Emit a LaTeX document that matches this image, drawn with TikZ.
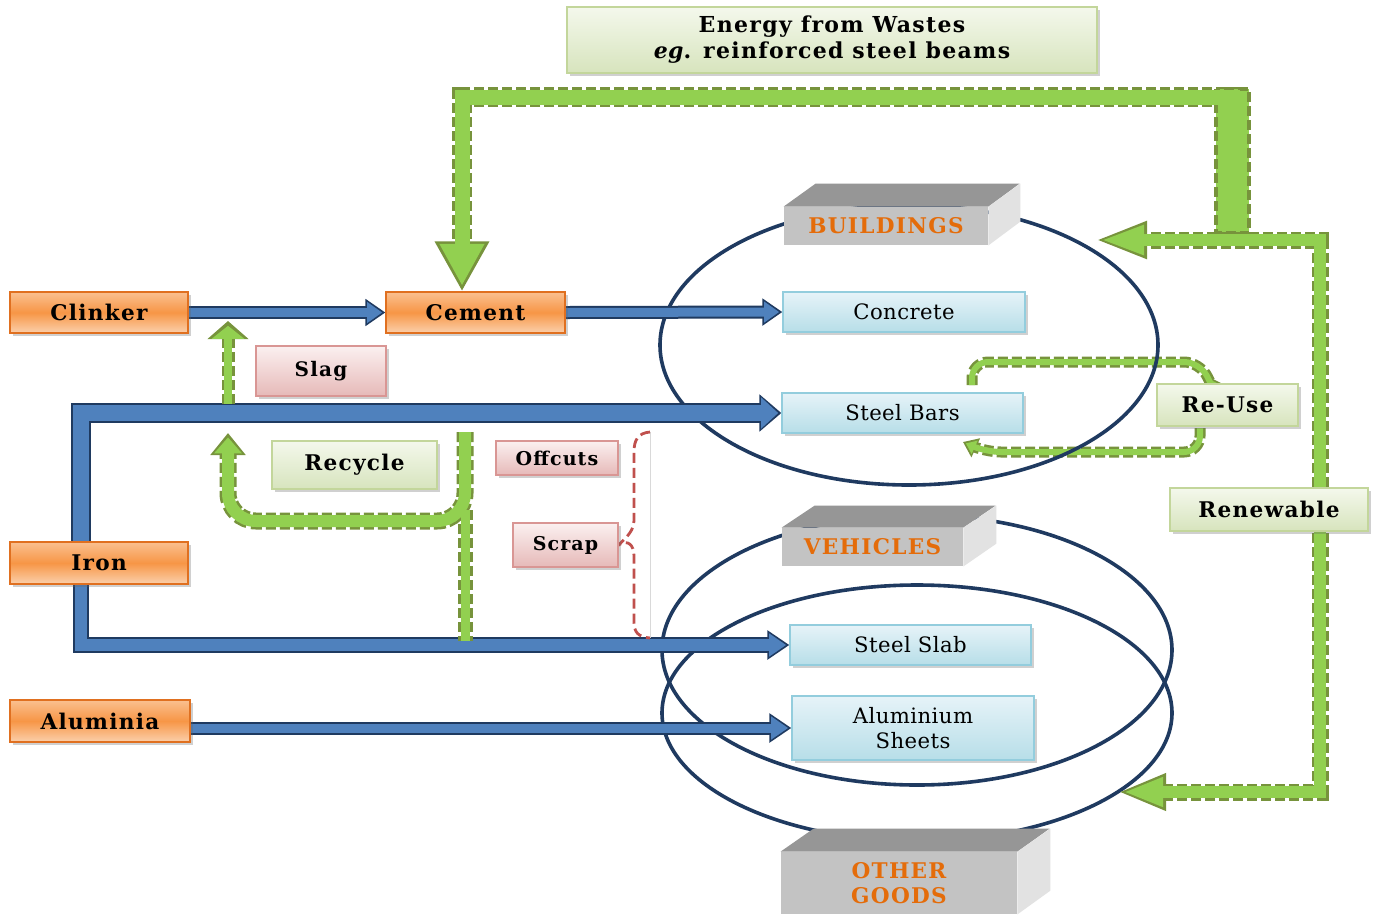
\documentclass[tikz,border=0pt]{standalone}
\usepackage{fontspec}
\setmainfont{DejaVu Serif}[LetterSpace=2,BoldFeatures={LetterSpace=6}]
\usetikzlibrary{arrows.meta,shadows,calc}
\pgfdeclarelayer{paper}
\pgfdeclarelayer{under}
\pgfdeclarelayer{links}
\pgfsetlayers{paper,under,links,main}

\definecolor{OrTop}{HTML}{FAC090}
\definecolor{OrMid}{HTML}{F79646}
\definecolor{OrBot}{HTML}{FBD0AC}
\definecolor{OrEdge}{HTML}{E07020}
\definecolor{PkTop}{HTML}{FBF0F0}
\definecolor{PkBot}{HTML}{E6B9B8}
\definecolor{PkEdge}{HTML}{D99694}
\definecolor{GbTop}{HTML}{F4F8EC}
\definecolor{GbBot}{HTML}{D7E4BD}
\definecolor{GbEdge}{HTML}{C3D69B}
\definecolor{BbTop}{HTML}{E6F3F8}
\definecolor{BbBot}{HTML}{B7DEE8}
\definecolor{BbEdge}{HTML}{93CDDD}
\definecolor{CubeFront}{HTML}{C3C3C3}
\definecolor{CubeTop}{HTML}{969696}
\definecolor{CubeSide}{HTML}{E2E2E2}
\definecolor{CubeText}{HTML}{E46C0A}
\definecolor{BlFill}{HTML}{4F81BD}
\definecolor{BlEdge}{HTML}{1F3A60}
\definecolor{GrFill}{HTML}{92D050}
\definecolor{GrEdge}{HTML}{77933C}
\definecolor{Ring}{HTML}{1F3A60}
\definecolor{Brace}{HTML}{C0504D}

\tikzset{
  box/.style={line width=0.6pt, inner sep=0pt, align=center,
    drop shadow={shadow xshift=1.4pt, shadow yshift=-1.4pt, opacity=0.3, fill=black!60}},
  orangebox/.style={box, draw=OrEdge, top color=OrTop, bottom color=OrBot, middle color=OrMid,
    font=\bfseries\fontsize{10.8}{12}\selectfont},
  pinkbox/.style={box, draw=PkEdge, top color=PkTop, bottom color=PkBot,
    font=\bfseries\fontsize{10}{12}\selectfont},
  greenbox/.style={box, draw=GbEdge, top color=GbTop, bottom color=GbBot,
    font=\bfseries\fontsize{10.8}{12}\selectfont},
  bluebox/.style={box, draw=BbEdge, top color=BbTop, bottom color=BbBot,
    font=\fontsize{10.6}{12.5}\selectfont},
  cubefront/.style={fill=CubeFront, inner sep=0pt, align=center, text=CubeText,
    font=\bfseries\fontsize{10.8}{12.5}\selectfont},
  ring/.style={draw=Ring, line width=1.8pt},
  bout/.style={draw=BlEdge, line width=#1},
  bin/.style={draw=BlFill, line width=#1},
  gout/.style={draw=GrEdge, line width=#1, dash pattern=on 5pt off 2pt},
  gin/.style={draw=GrFill, line width=#1},
}

\begin{document}
\begin{tikzpicture}[x=0.5pt,y=-0.5pt]
\useasboundingbox (0,0) rectangle (1373,923);
\begin{pgfonlayer}{paper}
  \fill[white] (0,0) rectangle (1373,923);
\end{pgfonlayer}

% ---------- boxes ----------
\node[greenbox, minimum width=265pt, minimum height=33pt,
      font=\bfseries\fontsize{11}{13}\selectfont] (title) at (832,40)
      {Energy from Wastes\\\textit{eg}. reinforced steel beams};

\node[orangebox, minimum width=89pt, minimum height=20.5pt] (clinker) at (99,312.5) {Clinker};
\node[orangebox, minimum width=89.5pt, minimum height=20.5pt] (cement) at (475.5,312.5) {Cement};
\node[orangebox, minimum width=89pt, minimum height=21pt] (iron) at (99,563) {Iron};
\node[orangebox, minimum width=90pt, minimum height=21pt] (aluminia) at (100,721) {Aluminia};

\node[pinkbox, minimum width=65pt, minimum height=25pt] (slag) at (321,371) {Slag};
\node[pinkbox, minimum width=61pt, minimum height=17pt,
      font=\bfseries\fontsize{9.5}{11}\selectfont] (offcuts) at (557,458) {Offcuts};
\node[pinkbox, minimum width=52.5pt, minimum height=22pt,
      font=\bfseries\fontsize{9.5}{11}\selectfont] (scrap) at (565.5,545) {Scrap};

\node[greenbox, minimum width=82.5pt, minimum height=24pt] (recycle) at (354.5,465) {Recycle};
\node[greenbox, minimum width=70.5pt, minimum height=21pt] (reuse) at (1227.5,405) {Re-Use};
\node[greenbox, minimum width=99pt, minimum height=21.5pt] (renewable) at (1269,509.5) {Renewable};

\node[bluebox, minimum width=121pt, minimum height=20pt] (concrete) at (904,312) {Concrete};
\node[bluebox, minimum width=120.5pt, minimum height=20pt] (steelbars) at (902.5,413) {Steel Bars};
\node[bluebox, minimum width=120.5pt, minimum height=20pt] (steelslab) at (910.5,645) {Steel Slab};
\node[bluebox, minimum width=121pt, minimum height=32pt] (alsheets) at (913,728) {Aluminium\\Sheets};

% ---------- grey blocks ----------
\node[cubefront, minimum width=102pt, minimum height=19pt] (buildings) at (886,226) {BUILDINGS};
\fill[CubeTop] (buildings.north west) -- ++(32,-23) -- ++(204,0) -- (buildings.north east) -- cycle;
\fill[CubeSide] (buildings.north east) -- ++(32,-23) -- ++(0,38) -- (buildings.south east) -- cycle;

\node[cubefront, minimum width=90.5pt, minimum height=19pt] (vehicles) at (872.5,547) {VEHICLES};
\fill[CubeTop] (vehicles.north west) -- ++(33,-22) -- ++(181,0) -- (vehicles.north east) -- cycle;
\fill[CubeSide] (vehicles.north east) -- ++(33,-22) -- ++(0,38) -- (vehicles.south east) -- cycle;

\node[cubefront, minimum width=118pt, minimum height=31pt] (othergoods) at (899,883) {OTHER\\GOODS};
\fill[CubeTop] (othergoods.north west) -- ++(33,-23) -- ++(236,0) -- (othergoods.north east) -- cycle;
\fill[CubeSide] (othergoods.north east) -- ++(33,-23) -- ++(0,62) -- (othergoods.south east) -- cycle;

% ---------- bend points ----------
\coordinate (wideNW) at (1216,89);
\coordinate (wideSE) at (1249,233);
\coordinate (loopRT) at (1240,97);
\coordinate (loopLT) at (462,97);
\coordinate (renLow)  at (1118,792);
\coordinate (renBR)   at (1320,792);
\coordinate (renTR)   at (1320,240);
\coordinate (renHigh) at (1095,240);
\coordinate (ruA) at (972,385);
\coordinate (ruB) at (972,362);
\coordinate (ruC) at (1200,362);
\coordinate (ruD) at (1207,376);
\coordinate (rbA) at (1200,428);
\coordinate (rbB) at (1200,452);
\coordinate (rbC) at (985,452);
\coordinate (rbD) at (963,442);
\coordinate (rcTop)  at (465,432);
\coordinate (rcTurn) at (465,521);
\coordinate (rcLeft) at (228,521);
\coordinate (rcTip)  at (228,433);
\coordinate (rcMid)  at (465,510);
\coordinate (rcBot)  at (465,641);
\coordinate (slagFrom) at (228,404);
\coordinate (slagTo)   at (228,321);

% ---------- re-use loop and rings ----------
\begin{pgfonlayer}{under}
  \draw[gout=5.5pt, rounded corners=8pt, -{Triangle[width=10pt,length=7pt]}]
    (ruA) -- (ruB) -- (ruC) -- (ruD);
  \draw[gout=5.5pt, rounded corners=8pt, -{Triangle[width=10pt,length=7pt]}]
    (rbA) -- (rbB) -- (rbC) -- (rbD);
  \draw[gin=3pt, rounded corners=8pt, shorten >=1.6pt, -{Triangle[width=7pt,length=4.8pt]}]
    (ruA) -- (ruB) -- (ruC) -- (ruD);
  \draw[gin=3pt, rounded corners=8pt, shorten >=1.6pt, -{Triangle[width=7pt,length=4.8pt]}]
    (rbA) -- (rbB) -- (rbC) -- (rbD);
\end{pgfonlayer}

\begin{pgfonlayer}{links}
  \draw[ring] (909,345) ellipse [x radius=249, y radius=140];
  \draw[ring] (917,650) ellipse [x radius=255, y radius=135];
  \draw[ring] (917,713) ellipse [x radius=255, y radius=128];

  % blue flows
  \draw[bout=6.5pt, -{Triangle[width=13pt,length=10pt]}] (clinker.east) -- (cement.west);
  \draw[bin=4.5pt, shorten >=1.6pt, -{Triangle[width=10pt,length=7.5pt]}] (clinker.east) -- (cement.west);
  \draw[bout=6.5pt, -{Triangle[width=13pt,length=10pt]}] (cement.east) -- (concrete.west);
  \draw[bin=4.5pt, shorten >=1.6pt, -{Triangle[width=10pt,length=7.5pt]}] (cement.east) -- (concrete.west);
  \draw[bout=10pt, -{Triangle[width=18pt,length=11pt]}] ([xshift=-9pt]iron.north) |- (steelbars.west);
  \draw[bin=8pt, shorten >=1.6pt, -{Triangle[width=15pt,length=8.5pt]}] ([xshift=-9pt]iron.north) |- (steelbars.west);
  \draw[bout=8pt, -{Triangle[width=14pt,length=11pt]}] ([xshift=-9pt]iron.south) |- (steelslab.west);
  \draw[bin=6pt, shorten >=1.6pt, -{Triangle[width=11pt,length=8.5pt]}] ([xshift=-9pt]iron.south) |- (steelslab.west);
  \draw[bout=6.5pt, -{Triangle[width=14pt,length=11pt]}] (aluminia.east |- alsheets.west) -- (alsheets.west);
  \draw[bin=4.5pt, shorten >=1.6pt, -{Triangle[width=11pt,length=8.5pt]}] (aluminia.east |- alsheets.west) -- (alsheets.west);

  % green flows: borders
  \draw[gout=10pt, -{Triangle[width=25.5pt,length=25pt]}] (loopRT) -- (loopLT) -- (loopLT |- cement.north);
  \fill[GrFill] (wideNW) rectangle (wideSE);
  \draw[GrEdge, line width=2pt, dash pattern=on 5pt off 2pt] (wideNW) rectangle (wideSE);
  \draw[gout=8.5pt, {Triangle[width=17pt,length=24pt]}-{Triangle[width=17pt,length=26pt]}]
    (renLow) -- (renBR) -- (renTR) -- (renHigh);
  \draw[gout=7.5pt] (rcMid) -- (rcBot);
  \draw[gout=8.5pt, rounded corners=14pt, -{Triangle[width=17pt,length=11pt]}]
    (rcTop) -- (rcTurn) -- (rcLeft) -- (rcTip);
  \draw[gout=6.5pt, -{Triangle[width=20pt,length=9pt]}] (slagFrom) -- (slagTo);

  % green flows: fills
  \draw[gin=7.5pt, shorten >=2.8pt, -{Triangle[width=21pt,length=21pt]}] (loopRT) -- (loopLT) -- (loopLT |- cement.north);
  \draw[gin=6pt, shorten <=2.6pt, shorten >=2.6pt, {Triangle[width=13.5pt,length=20pt]}-{Triangle[width=13.5pt,length=22pt]}]
    (renLow) -- (renBR) -- (renTR) -- (renHigh);
  \draw[gin=4.5pt] (rcMid) -- (rcBot);
  \draw[gin=6pt, rounded corners=14pt, shorten >=2.2pt, -{Triangle[width=13.5pt,length=8pt]}]
    (rcTop) -- (rcTurn) -- (rcLeft) -- (rcTip);
  \draw[gin=4pt, shorten >=2.4pt, -{Triangle[width=16pt,length=6.5pt]}] (slagFrom) -- (slagTo);

  % brace gathering the offcuts and scrap
  \draw[gray!30, line width=0.4pt] (650,432) -- (650,638);
  \draw[Brace, line width=1.4pt, dash pattern=on 5pt off 2.5pt]
    (650,432) .. controls (638,433) and (634,440) .. (634,452) -- (634,520)
    .. controls (634,530) and (628,536) .. (scrap.east)
    .. controls (628,539) and (634,545) .. (634,556) -- (634,622)
    .. controls (634,632) and (638,637) .. (650,638);
\end{pgfonlayer}
\end{tikzpicture}
\end{document}
